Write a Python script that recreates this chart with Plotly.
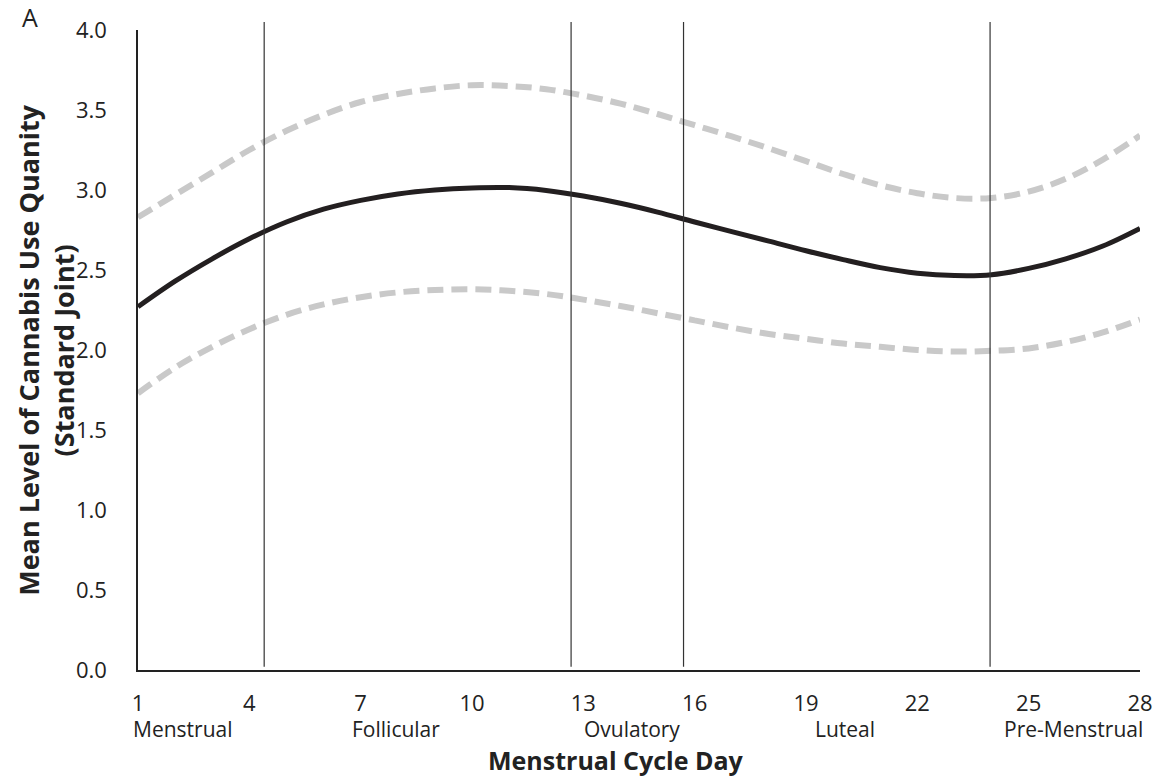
import plotly.graph_objects as go

# Cycle days and model estimates
days = list(range(1, 29))
mean_level = [2.27, 2.43, 2.57, 2.695, 2.80, 2.88, 2.935, 2.975, 3.00, 3.013,
              3.015, 2.997, 2.962, 2.917, 2.862, 2.80, 2.74, 2.68, 2.62, 2.565,
              2.515, 2.48, 2.465, 2.47, 2.51, 2.57, 2.65, 2.76]
upper_ci = [2.83, 2.97, 3.11, 3.25, 3.37, 3.47, 3.55, 3.60, 3.635, 3.655,
            3.65, 3.63, 3.59, 3.54, 3.475, 3.405, 3.335, 3.26, 3.18, 3.10,
            3.03, 2.98, 2.95, 2.95, 2.99, 3.07, 3.19, 3.34]
lower_ci = [1.73, 1.89, 2.02, 2.13, 2.22, 2.285, 2.33, 2.36, 2.375, 2.38,
            2.37, 2.35, 2.315, 2.275, 2.23, 2.185, 2.14, 2.10, 2.07, 2.04,
            2.02, 2.00, 1.99, 1.995, 2.01, 2.05, 2.11, 2.19]

# Phase boundaries (cycle day) and phase labels
phase_bounds = [4.4, 12.67, 15.7, 23.96]
phase_names = ["Menstrual", "Follicular", "Ovulatory", "Luteal", "Pre-Menstrual"]
phase_label_days = [2.2, 7.95, 14.3, 20.05, 26.2]

x_ticks = [1, 4, 7, 10, 13, 16, 19, 22, 25, 28]
y_ticks = [0.0, 0.5, 1.0, 1.5, 2.0, 2.5, 3.0, 3.5, 4.0]

FONT = "Open Sans, Noto Sans, sans-serif"
TEXT = "#222222"

fig = go.Figure()
for ci in (upper_ci, lower_ci):
    fig.add_trace(go.Scatter(
        x=days, y=ci, mode="lines", line_shape="spline",
        line=dict(color="#c9c9c9", width=6, dash="16px,8px"),
        hoverinfo="skip", showlegend=False))
fig.add_trace(go.Scatter(
    x=days, y=mean_level, mode="lines", line_shape="spline",
    line=dict(color="#231f20", width=5), showlegend=False))

for b in phase_bounds:
    fig.add_shape(type="line", xref="x", yref="paper", x0=b, x1=b,
                  y0=0.005, y1=1.0125, line=dict(color="#333333", width=1.2))

for name, d in zip(phase_names, phase_label_days):
    fig.add_annotation(x=d, y=0, xref="x", yref="paper", yshift=-43,
                       text=name, showarrow=False, xanchor="center", yanchor="top",
                       font=dict(family=FONT, size=21, color=TEXT))

fig.add_annotation(x=0.477, y=0, xref="paper", yref="paper", yshift=-71,
                   text="<b>Menstrual Cycle Day</b>", showarrow=False,
                   xanchor="center", yanchor="top",
                   font=dict(family=FONT, size=25, color=TEXT))
fig.add_annotation(x=-0.092, y=0.5, xref="paper", yref="paper",
                   text="<b>Mean Level of Cannabis Use Quanity<br>(Standard Joint)</b>",
                   showarrow=False, textangle=-90, xanchor="center", yanchor="middle",
                   font=dict(family=FONT, size=27, color=TEXT))
fig.add_annotation(x=-0.108, y=1.02, xref="paper", yref="paper",
                   text="A", showarrow=False, xanchor="center", yanchor="middle",
                   font=dict(family=FONT, size=25, color=TEXT))

fig.update_layout(
    width=1166, height=776,
    margin=dict(l=138, r=26, t=30, b=106),
    paper_bgcolor="white", plot_bgcolor="white",
    font=dict(family=FONT, size=22, color=TEXT),
    xaxis=dict(range=[1, 28], tickvals=x_ticks, showgrid=False, zeroline=False,
               showline=True, linecolor=TEXT, linewidth=2,
               ticks="", ticklabelstandoff=13,
               tickfont=dict(family=FONT, size=22, color=TEXT)),
    yaxis=dict(range=[0, 4], tickvals=y_ticks, tickformat=".1f", showgrid=False,
               zeroline=False, showline=True, linecolor=TEXT, linewidth=1.5,
               ticks="", ticklabelstandoff=25,
               tickfont=dict(family=FONT, size=22, color=TEXT)),
)

fig.write_html("out.html")
